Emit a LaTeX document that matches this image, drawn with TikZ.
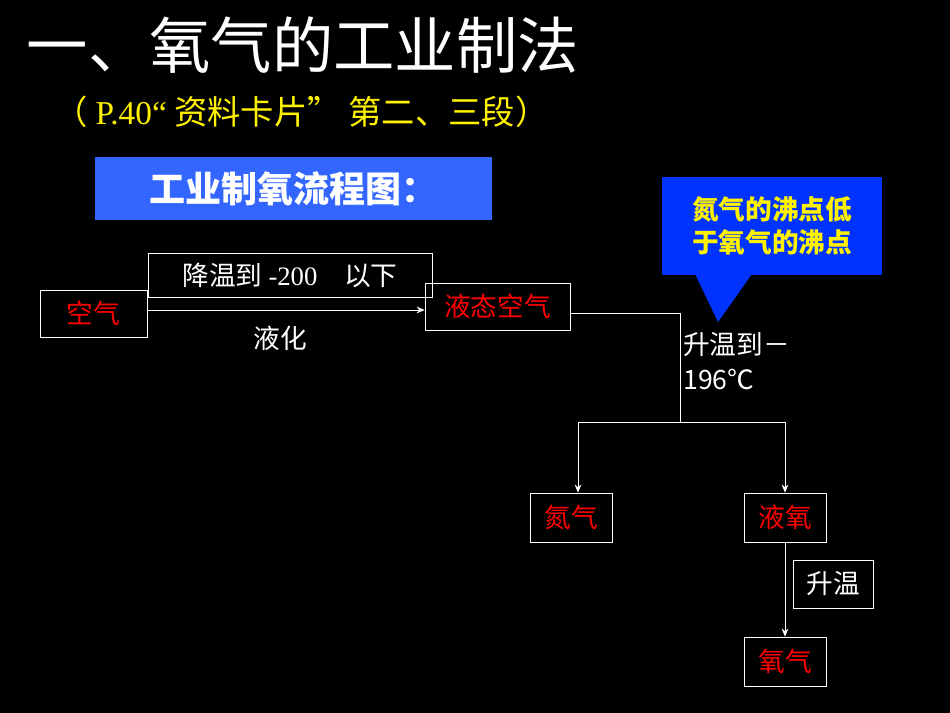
\documentclass[tikz,border=0pt]{standalone}
\usepackage{fontspec}
\setmainfont{Liberation Serif}
\newfontfamily\cjk{Noto Sans CJK SC}
\usetikzlibrary{arrows.meta}
\definecolor{hdrblue}{RGB}{51,102,255}
\definecolor{callblue}{RGB}{0,51,255}
\begin{document}
\begin{tikzpicture}[x=0.75pt,y=-0.75pt,
  bx/.style={draw=white,line width=0.6pt,inner sep=0pt,font=\cjk\fontsize{20}{24}\selectfont},
  ar/.style={draw=white,line width=0.6pt,-{Stealth[length=6pt,width=5pt]}},
  ln/.style={draw=white,line width=0.6pt}]
\fill[black] (0,0) rectangle (950,713);
\node[text=white,anchor=west,font=\cjk\fontsize{46}{50}\selectfont] (title) at (22,45) {一、氧气的工业制法};
\node[text=yellow,anchor=west,font=\cjk\fontsize{25}{30}\selectfont] (sub) at (50,112) {（ \textrm{P.40“} 资料卡片” 第二、三段）};
\node[fill=hdrblue,text=white,minimum width=397*0.75pt,minimum height=63*0.75pt,font=\cjk\bfseries\fontsize{27}{30}\selectfont,inner sep=0pt] (hdr) at (293.5,188.5) {工业制氧流程图：};
\node[fill=callblue,text=yellow,minimum width=220*0.75pt,minimum height=98*0.75pt,align=center,font=\cjk\bfseries\fontsize{20}{25}\selectfont,inner sep=0pt] (call) at (772,226) {氮气的沸点低\\于氧气的沸点};
\fill[callblue] (695,274) -- (752,274) -- (718,322) -- cycle;
\node[bx,text=red,minimum width=107*0.75pt,minimum height=47*0.75pt] (air) at (93.5,313.5) {空气};
\node[bx,text=white,minimum width=284*0.75pt,minimum height=44*0.75pt] (cool) at (290,275) {降温到 \textrm{-200℃} 以下};
\node[bx,text=red,minimum width=145*0.75pt,minimum height=47*0.75pt] (liq) at (497.5,306.5) {液态空气};
\node[text=white,font=\cjk\fontsize{20}{24}\selectfont] (lh) at (280,338) {液化};
\draw[ar] (air.east|-0,310) -- (liq.west|-0,310);
\coordinate (c1) at (680,313);
\coordinate (c2) at (680,422);
\coordinate (cl) at (578,422);
\coordinate (cr) at (785,422);
\draw[ln] (liq.east|-c1) -- (c1) -- (c2);
\draw[ln] (cl) -- (cr);
\node[text=white,anchor=north west,align=left,inner sep=0pt,font=\cjk\fontsize{20}{26}\selectfont] (heat) at (683,332) {升温到－\\196℃};
\node[bx,text=red,minimum width=82*0.75pt,minimum height=49*0.75pt] (n2) at (571,517.5) {氮气};
\node[bx,text=red,minimum width=82*0.75pt,minimum height=49*0.75pt] (lo) at (785,517.5) {液氧};
\node[bx,text=red,minimum width=82*0.75pt,minimum height=49*0.75pt] (o2) at (785,661.5) {氧气};
\node[bx,text=white,minimum width=80*0.75pt,minimum height=48*0.75pt] (up) at (833,584) {升温};
\draw[ar] (cl) -- (cl|-n2.north);
\draw[ar] (cr) -- (lo.north);
\draw[ar] (lo.south) -- (o2.north);
\end{tikzpicture}
\end{document}
